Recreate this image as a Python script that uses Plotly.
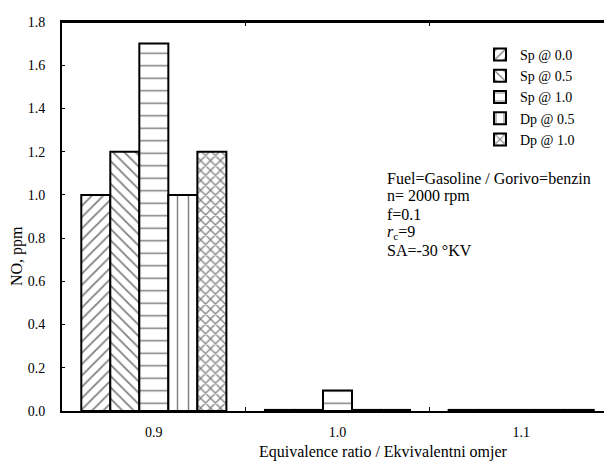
import plotly.graph_objects as go

categories = ["0.9", "1.0", "1.1"]
series_names = ["Sp @ 0.0", "Sp @ 0.5", "Sp @ 1.0", "Dp @ 0.5", "Dp @ 1.0"]
sp_00 = [1.0, 0.005, 0.005]
sp_05 = [1.2, 0.005, 0.005]
sp_10 = [1.7, 0.095, 0.005]
dp_05 = [1.0, 0.005, 0.005]
dp_10 = [1.2, 0.005, 0.005]
series_values = [sp_00, sp_05, sp_10, dp_05, dp_10]
y_ticks = [0.0, 0.2, 0.4, 0.6, 0.8, 1.0, 1.2, 1.4, 1.6, 1.8]
x_title = "Equivalence ratio / Ekvivalentni omjer"
y_title = "NO, ppm"
info_lines = [
    "Fuel=Gasoline / Gorivo=benzin",
    "n= 2000 rpm",
    "f=0.1",
    "<i>r</i><sub>c</sub>=9",
    "SA=-30 °KV",
]

patterns = [
    dict(shape="/", size=8, solidity=0.22),
    dict(shape="\\", size=8, solidity=0.22),
    dict(shape="-", size=12.5, solidity=0.12),
    dict(shape="|", size=11, solidity=0.13),
    dict(shape="x", size=7, solidity=0.34),
]

FONT = "Liberation Serif, Times New Roman, serif"

fig = go.Figure()
for name, vals, pat in zip(series_names, series_values, patterns):
    fig.add_trace(go.Bar(
        x=categories, y=vals, name=name,
        marker=dict(
            color="white",
            line=dict(color="black", width=2),
            pattern=dict(fgcolor="black", bgcolor="white", fillmode="overlay", **pat),
        ),
    ))

FW, FH = 612, 468
L, R, T, B = 54, 605, 14, 403
W, H = R - L, B - T


def px(fx):
    return (fx - L) / W


def py(fy):
    return (B - fy) / H


line_px = [170, 188, 206, 225, 243]
for txt, fy in zip(info_lines, line_px):
    fig.add_annotation(
        xref="paper", yref="paper", x=px(377), y=py(fy),
        xanchor="left", yanchor="middle", text=txt, showarrow=False, align="left",
        font=dict(family=FONT, size=16, color="black"),
    )

fig.add_annotation(
    xref="paper", yref="paper", x=px(375), y=py(444),
    xanchor="center", yanchor="middle", text=x_title, showarrow=False,
    font=dict(family=FONT, size=16, color="black"),
)
fig.add_annotation(
    xref="paper", yref="paper", x=px(9), y=py(248),
    xanchor="center", yanchor="middle", text=y_title, showarrow=False, textangle=-90,
    font=dict(family=FONT, size=16, color="black"),
)

# top frame line
fig.add_shape(type="line", xref="paper", yref="paper", x0=0, x1=1, y0=1, y1=1,
              line=dict(color="black", width=2), layer="above")

fig.update_layout(
    width=FW, height=FH,
    margin=dict(l=L, r=FW - R, t=T, b=FH - B, autoexpand=False),
    paper_bgcolor="white", plot_bgcolor="white",
    barmode="group", bargap=0.21, bargroupgap=0,
    font=dict(family=FONT, size=14, color="black"),
    showlegend=True,
    legend=dict(
        x=px(472), y=py(31), xanchor="left", yanchor="top",
        font=dict(family=FONT, size=14, color="black"),
        bgcolor="rgba(0,0,0,0)", borderwidth=0,
        tracegroupgap=0, itemwidth=30,
    ),
    xaxis=dict(
        type="category", range=[-0.5, 2.5], automargin=False,
        showline=True, linecolor="black", linewidth=2, mirror="ticks",
        ticks="inside", tickson="boundaries", ticklen=4, tickcolor="black", tickwidth=1,
        showgrid=False, zeroline=False, ticklabelstandoff=7,
        tickfont=dict(family=FONT, size=14),
    ),
    yaxis=dict(
        range=[0, 1.8], tickvals=y_ticks, ticktext=[f"{v:.1f}" for v in y_ticks],
        automargin=False,
        showline=True, linecolor="black", linewidth=2, mirror="ticks",
        ticks="inside", ticklen=3, tickcolor="black", tickwidth=1,
        showgrid=False, zeroline=False, ticklabelstandoff=12,
        tickfont=dict(family=FONT, size=14),
    ),
)

fig.write_html("out.html")
